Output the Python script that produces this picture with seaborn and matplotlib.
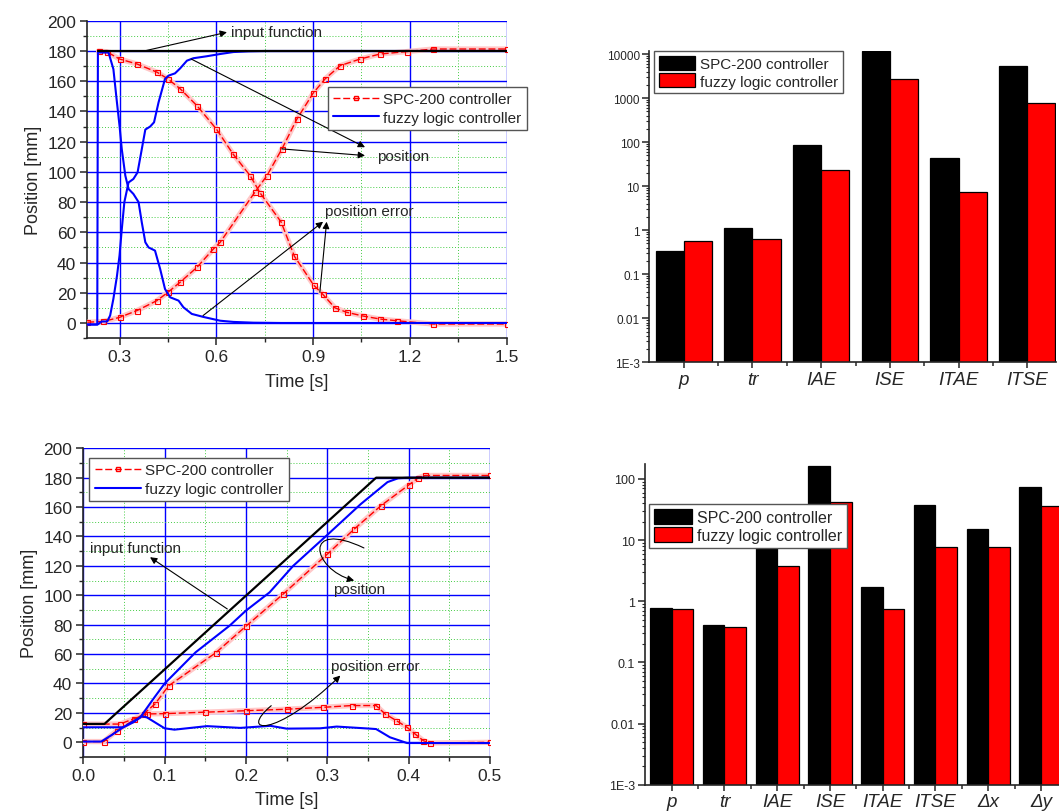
import numpy as np
import pandas as pd
import matplotlib
matplotlib.use("Agg")
import matplotlib.pyplot as plt
from matplotlib.lines import Line2D
from matplotlib.patches import Patch, FancyArrowPatch
from matplotlib.path import Path
from matplotlib.ticker import (MultipleLocator, FixedLocator, FixedFormatter, LogLocator,
                               NullFormatter, FormatStrFormatter)
import seaborn as sns

sns.set_style("ticks")
plt.rcParams["font.family"] = ["Liberation Sans", "DejaVu Sans"]
plt.rcParams["axes.linewidth"] = 1.2

# ---------------- step response (0 -> 180 mm) ----------------
step_input_t = [0.232, 1.50]
step_input_y = [180.0, 180.0]

step_fuzzy_pos_t = [0.20, 0.232, 0.245, 0.262, 0.271, 0.281, 0.292, 0.300, 0.307, 0.315,
                    0.328, 0.343, 0.356, 0.369, 0.380, 0.395, 0.407, 0.421, 0.441, 0.452,
                    0.472, 0.488, 0.509, 0.529, 0.570, 0.612, 0.653, 0.700, 0.750, 1.50]
step_fuzzy_pos_y = [-1, -1, 1, 1, 5, 16, 31, 44.6, 62, 80,
                    93, 95.3, 99.7, 115, 128, 130, 132.8, 146, 161.5, 163.7,
                    165.2, 168.5, 173.6, 175.2, 176.5, 178, 179.3, 179.8, 180, 180]

step_fuzzy_err_t = [0.20, 0.231, 0.233, 0.266, 0.281, 0.292, 0.300, 0.307, 0.318, 0.328,
                    0.343, 0.359, 0.369, 0.380, 0.390, 0.410, 0.426, 0.441, 0.457, 0.483,
                    0.498, 0.524, 0.560, 0.612, 0.653, 0.715, 0.800, 1.50]
step_fuzzy_err_y = [-1, -1, 179, 179, 168, 146, 130.6, 115, 97.5, 88.7,
                    85.4, 80, 66.6, 53.4, 50, 47.9, 35.7, 22.5, 17, 14.8,
                    10.4, 6, 4, 1.5, 0.7, 0.2, 0, 0]

step_spc_pos_t = [0.20, 0.25, 0.30, 0.354, 0.416, 0.45, 0.488, 0.54, 0.591, 0.612,
                  0.72, 0.757, 0.803, 0.85, 0.90, 0.937, 0.984, 1.046, 1.108, 1.19,
                  1.272, 1.50]
step_spc_pos_y = [0.5, 1, 3.7, 8.2, 14.8, 20.3, 27, 36.8, 49, 53.4,
                  86.7, 97.5, 115, 135, 152, 161.5, 170.3, 174.7, 178, 179.6,
                  181.3, 181.3]

step_spc_err_t = [0.235, 0.26, 0.30, 0.354, 0.416, 0.45, 0.488, 0.54, 0.60, 0.652,
                  0.705, 0.736, 0.801, 0.842, 0.902, 0.93, 0.968, 1.004, 1.055, 1.108,
                  1.159, 1.272, 1.50]
step_spc_err_y = [180, 179.5, 174.7, 171.4, 166, 161.5, 155, 143.8, 128.4, 111.8,
                  97.5, 86, 66.8, 44.2, 25, 19, 10, 7.1, 4.6, 2.6,
                  1.5, -0.7, -0.7]

# ---------------- ramp response ----------------
ramp_input_t = [0.0, 0.026, 0.36, 0.50]
ramp_input_y = [12.5, 12.5, 180.0, 180.0]

ramp_fuzzy_pos_t = [0.0, 0.022, 0.035, 0.049, 0.070, 0.086, 0.100, 0.138, 0.180, 0.200,
                    0.229, 0.258, 0.299, 0.341, 0.374, 0.387, 0.400, 0.500]
ramp_fuzzy_pos_y = [0.5, 0.5, 5, 10.2, 17, 29.5, 40, 61.2, 79.4, 89.6,
                    102, 120, 140.6, 162, 177, 179.6, 180, 180]

ramp_fuzzy_err_t = [0.0, 0.049, 0.0615, 0.072, 0.078, 0.100, 0.112, 0.152, 0.193, 0.230,
                    0.250, 0.291, 0.3115, 0.3525, 0.360, 0.377, 0.398, 0.500]
ramp_fuzzy_err_y = [10.2, 10.2, 13.6, 17.7, 17, 9.5, 8.6, 11, 9.8, 11.2,
                    9.3, 9.5, 10.7, 9.3, 9, 3.4, -0.5, -0.5]

ramp_spc_pos_t = [0.0, 0.025, 0.041, 0.074, 0.088, 0.105, 0.163, 0.200, 0.246, 0.300,
                  0.333, 0.366, 0.400, 0.412, 0.420, 0.500]
ramp_spc_pos_y = [0.5, 0.5, 7.9, 19.3, 26, 38.5, 61, 79, 101, 128,
                  145, 161, 175, 180, 181.5, 181.5]

ramp_spc_err_t = [0.0, 0.045, 0.062, 0.078, 0.100, 0.150, 0.200, 0.250, 0.295, 0.330,
                  0.360, 0.371, 0.385, 0.398, 0.408, 0.418, 0.426, 0.500]
ramp_spc_err_y = [12.4, 12.4, 16, 19.3, 19.5, 20.5, 21.5, 22.5, 23.8, 25,
                  25, 19.3, 14.7, 10.2, 5.6, 1.1, -0.5, 0]

# ---------------- performance indices ----------------
series_names = ["SPC-200 controller", "fuzzy logic controller"]
bar_colors = ["#000000", "#ff0000"]

step_metrics = ["p", "tr", "IAE", "ISE", "ITAE", "ITSE"]
step_spc_vals = [0.34, 1.15, 86, 11500, 43, 5300]
step_fuzzy_vals = [0.58, 0.63, 23, 2650, 7.5, 770]

ramp_metrics = ["p", "tr", "IAE", "ISE", "ITAE", "ITSE", "Δx", "Δy"]
ramp_spc_vals = [0.77, 0.41, 14, 160, 1.74, 37.6, 15.1, 75]
ramp_fuzzy_vals = [0.74, 0.38, 3.8, 42.6, 0.74, 7.6, 7.6, 35.7]

BLUE = "#0000ff"
RED = "#ff0000"
GRID_MINOR = "#44cc44"

fig = plt.figure(figsize=(10.59, 8.12), dpi=100)
fig.patch.set_facecolor("white")


def draw_curve(ax, t, y, kind):
    if kind == "spc":
        # soft band underneath gives the hollow-square staircase its visual weight
        sns.lineplot(x=t, y=y, ax=ax, estimator=None, sort=False, legend=False,
                     color="#ffc8c8", lw=3.8, zorder=2.9)
        sns.lineplot(x=t, y=y, ax=ax, estimator=None, sort=False, legend=False,
                     color=RED, lw=1.0, linestyle=(0, (5, 2)), marker="s",
                     markersize=3.6, markerfacecolor="none", markeredgecolor=RED,
                     markeredgewidth=0.8, zorder=3)
    elif kind == "fuzzy":
        sns.lineplot(x=t, y=y, ax=ax, estimator=None, sort=False, legend=False,
                     color=BLUE, lw=1.5, zorder=4)
    else:
        sns.lineplot(x=t, y=y, ax=ax, estimator=None, sort=False, legend=False,
                     color="black", lw=1.6, zorder=5)


def style_time_axes(ax, xlim, xmajor, xminor):
    ax.set_xlim(*xlim)
    ax.set_ylim(-10, 200)
    ax.xaxis.set_major_locator(MultipleLocator(xmajor))
    ax.xaxis.set_minor_locator(MultipleLocator(xminor))
    ax.yaxis.set_major_locator(MultipleLocator(20))
    ax.yaxis.set_minor_locator(MultipleLocator(10))
    ax.grid(which="major", color=BLUE, lw=1.0)
    ax.grid(which="minor", color=GRID_MINOR, lw=0.7, linestyle=(0, (1, 2)))
    ax.set_axisbelow(True)
    for s in ("top", "right"):
        ax.spines[s].set_visible(False)
    ax.tick_params(which="major", direction="out", length=5, width=1.1, labelsize=12.5, pad=3)
    ax.tick_params(which="minor", direction="out", length=3, width=1.0)
    ax.set_xlabel("Time [s]", fontsize=13, labelpad=6)
    ax.set_ylabel("Position [mm]", fontsize=13, labelpad=4)


def line_legend(ax, anchor):
    handles = [
        Line2D([0, 0.5, 1], [0, 0, 0], color=RED, lw=1.0, linestyle=(0, (5, 2)), marker="s",
               markersize=3.5, markerfacecolor="none", markeredgecolor=RED, markevery=[1]),
        Line2D([], [], color=BLUE, lw=1.5),
    ]
    leg = ax.legend(handles, series_names, loc="upper left", bbox_to_anchor=anchor,
                    borderaxespad=0, fontsize=11, frameon=True, fancybox=False,
                    framealpha=1, edgecolor="#555555", handlelength=3.0,
                    handletextpad=0.3, borderpad=0.35, labelspacing=0.3)
    leg.get_frame().set_linewidth(1.0)
    leg.set_zorder(10)


def arrow(ax, start, end):
    ax.annotate("", xy=end, xytext=start,
                arrowprops=dict(arrowstyle="-|>", color="black", lw=0.8,
                                mutation_scale=10, shrinkA=0, shrinkB=0),
                zorder=8)


def curved_arrow(ax, pts):
    path = Path(pts, [Path.MOVETO, Path.CURVE4, Path.CURVE4, Path.CURVE4])
    p = FancyArrowPatch(path=path, arrowstyle="-|>", color="black", lw=0.8,
                        mutation_scale=10, zorder=8)
    ax.add_patch(p)


# ---- top left: step response ----
ax1 = fig.add_axes([0.0824, 0.5824, 0.396, 0.3908])
draw_curve(ax1, step_spc_pos_t, step_spc_pos_y, "spc")
draw_curve(ax1, step_spc_err_t, step_spc_err_y, "spc")
draw_curve(ax1, step_fuzzy_pos_t, step_fuzzy_pos_y, "fuzzy")
draw_curve(ax1, step_fuzzy_err_t, step_fuzzy_err_y, "fuzzy")
draw_curve(ax1, step_input_t, step_input_y, "input")
style_time_axes(ax1, (0.2, 1.5), 0.3, 0.15)
line_legend(ax1, (0.573, 0.792))
ax1.text(0.646, 192.4, "input function", fontsize=11, va="center", ha="left")
arrow(ax1, (0.376, 180), (0.633, 192.4))
ax1.text(1.097, 110.7, "position", fontsize=11, va="center", ha="left")
arrow(ax1, (0.522, 174.7), (1.061, 116.3))
arrow(ax1, (0.803, 115.2), (1.061, 110.8))
ax1.text(0.937, 73.9, "position error", fontsize=11, va="center", ha="left")
arrow(ax1, (0.559, 4.9), (0.931, 67))
arrow(ax1, (0.921, 20.3), (0.942, 67))

# ---- bottom left: ramp response ----
ax3 = fig.add_axes([0.0787, 0.0665, 0.384, 0.3802])
draw_curve(ax3, ramp_spc_pos_t, ramp_spc_pos_y, "spc")
draw_curve(ax3, ramp_spc_err_t, ramp_spc_err_y, "spc")
draw_curve(ax3, ramp_fuzzy_pos_t, ramp_fuzzy_pos_y, "fuzzy")
draw_curve(ax3, ramp_fuzzy_err_t, ramp_fuzzy_err_y, "fuzzy")
draw_curve(ax3, ramp_input_t, ramp_input_y, "input")
style_time_axes(ax3, (0.0, 0.5), 0.1, 0.05)
ax3.xaxis.set_major_formatter(FormatStrFormatter("%.1f"))
line_legend(ax3, (0.015, 0.9686))
ax3.text(0.0087, 132, "input function", fontsize=11, va="center", ha="left")
arrow(ax3, (0.177, 90.7), (0.082, 125.9))
ax3.text(0.307, 104.3, "position", fontsize=11, va="center", ha="left")
curved_arrow(ax3, [(0.345, 132.2), (0.27, 152), (0.28, 118), (0.333, 110)])
ax3.text(0.305, 52.2, "position error", fontsize=11, va="center", ha="left")
curved_arrow(ax3, [(0.231, 24.9), (0.19, 6), (0.235, 2), (0.316, 45.4)])


# ---- bar charts ----
def bar_chart(rect, metrics, spc_vals, fuzzy_vals, ylim, ticks, ticklabels, xlim,
              legend_anchor, tick_fs, leg_fs):
    ax = fig.add_axes(rect)
    df = pd.DataFrame({
        "metric": metrics * 2,
        "value": list(spc_vals) + list(fuzzy_vals),
        "controller": [series_names[0]] * len(metrics) + [series_names[1]] * len(metrics),
    })
    sns.barplot(data=df, x="metric", y="value", hue="controller", hue_order=series_names,
                order=metrics, palette=bar_colors, saturation=1, width=0.82,
                edgecolor="black", linewidth=0.9, legend=False,
                errorbar=None, ax=ax)
    ax.set_yscale("log")
    ax.set_ylim(*ylim)
    ax.set_xlim(*xlim)
    ax.yaxis.set_major_locator(FixedLocator(ticks))
    ax.yaxis.set_major_formatter(FixedFormatter(ticklabels))
    ax.yaxis.set_minor_locator(LogLocator(base=10, subs=np.arange(2, 10)))
    ax.yaxis.set_minor_formatter(NullFormatter())
    n = len(metrics)
    ax.set_xticks(range(n))
    ax.set_xticklabels(metrics, fontstyle="italic", fontsize=13.5)
    ax.set_xticks(np.arange(0.5, n - 1, 1.0), minor=True)
    ax.set_xlabel("")
    ax.set_ylabel("")
    for s in ("top", "right"):
        ax.spines[s].set_visible(False)
    ax.tick_params(axis="y", which="major", direction="out", length=5, width=1.1,
                   labelsize=tick_fs, pad=2)
    ax.tick_params(axis="y", which="minor", direction="out", length=2.5, width=0.8)
    ax.tick_params(axis="x", which="major", direction="out", length=4, width=1.1, pad=2)
    ax.tick_params(axis="x", which="minor", direction="out", length=3, width=1.1)
    handles = [Patch(facecolor=c, edgecolor="black", lw=0.9) for c in bar_colors]
    leg = ax.legend(handles, series_names, loc="upper left", bbox_to_anchor=legend_anchor,
                    borderaxespad=0, fontsize=leg_fs, frameon=True, fancybox=False,
                    framealpha=1, edgecolor="#555555", handlelength=2.4,
                    handleheight=1.05, handletextpad=0.3, borderpad=0.3,
                    labelspacing=0.15)
    leg.get_frame().set_linewidth(1.0)
    return ax


ax2 = bar_chart([0.6133, 0.5526, 0.3839, 0.3837], step_metrics, step_spc_vals,
                step_fuzzy_vals, (1e-3, 11900),
                [1e-3, 1e-2, 1e-1, 1, 10, 100, 1000, 10000],
                ["1E-3", "0.01", "0.1", "1", "10", "100", "1000", "10000"],
                (-0.5, 5.42), (0.011, 0.999), 8.5, 11)

ax4 = bar_chart([0.609, 0.0324, 0.3989, 0.395], ramp_metrics, ramp_spc_vals,
                ramp_fuzzy_vals, (1e-3, 176),
                [1e-3, 1e-2, 1e-1, 1, 10, 100],
                ["1E-3", "0.01", "0.1", "1", "10", "100"],
                (-0.506, 7.5), (0.0095, 0.875), 9, 11.5)

fig.savefig("out.png", dpi=100, facecolor="white")
